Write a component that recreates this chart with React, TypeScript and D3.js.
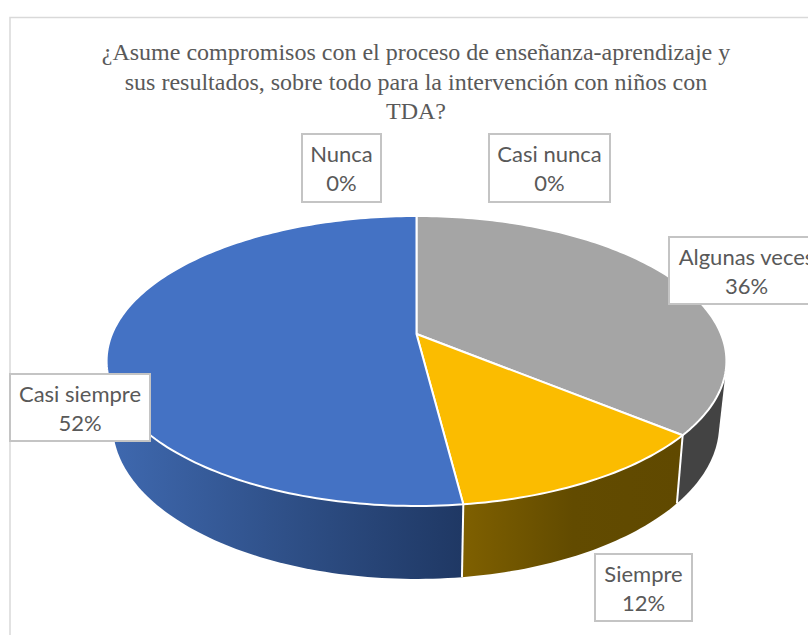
import * as d3 from "d3";

const categories = ["Nunca", "Casi nunca", "Algunas veces", "Siempre", "Casi siempre"];
const values = [0, 0, 36, 12, 52];
const titleLines = [
  "¿Asume compromisos con el proceso de enseñanza-aprendizaje y",
  "sus resultados, sobre todo para la intervención con niños con",
  "TDA?",
];
const topColors = ["#5b9bd5", "#ed7d31", "#a5a5a5", "#fbbc00", "#4472c4"];
// horizontal gradient on the wall of each slice
const wallStops = [
  ["#5b9bd5", "#5b9bd5", "#5b9bd5"],
  ["#ed7d31", "#ed7d31", "#ed7d31"],
  ["#434343", "#434343", "#434343"],
  ["#7f6000", "#624b00", "#604900"],
  ["#3f69b0", "#2f5088", "#1f3864"],
];
// label box per category: left, top, right, bottom
const labelBoxes = [
  [302, 134, 381, 202],
  [489, 134, 610, 202],
  [669, 237, 824, 304],
  [595, 554, 692, 621],
  [10, 374, 150, 441],
];

const WIDTH = 808;
const HEIGHT = 635;

// the disc is seen in perspective, so its centre is not the centre of the ellipse
type Disc = { cx: number; cy: number; a: number; b: number; p: number };
const topDisc: Disc = { cx: 416.5, cy: 334, a: 304.5, b: 140, p: 0.186 };
const bottomDisc: Disc = { cx: 416, cy: 395.7, a: 297.6, b: 148.4, p: 0.19 };

function rim(d: Disc, t: number): [number, number] {
  const u = Math.sin(t);
  const v = Math.cos(t);
  const w = 1 + d.p * v;
  return [d.cx + (d.a * u) / w, d.cy - (d.b * v) / w];
}

function arcPoints(d: Disc, t0: number, t1: number) {
  const n = Math.max(2, Math.ceil(Math.abs(t1 - t0) / 0.02));
  return d3.range(n + 1).map((i) => rim(d, t0 + ((t1 - t0) * i) / n));
}

const line = d3.line();

export default function App() {
  const slices = d3
    .pie<number>()
    .sort(null)
    .value((v) => v)
    .startAngle(0)
    .endAngle(Math.PI * 2)(values);

  // only the near half of the rim has a visible wall
  const nearStart = (Math.PI * 70) / 180;
  const nearEnd = (Math.PI * 290) / 180;

  const walls = slices
    .map((s, i) => {
      const t0 = Math.max(s.startAngle, nearStart);
      const t1 = Math.min(s.endAngle, nearEnd);
      return { i, t0, t1 };
    })
    .filter((w) => w.t1 > w.t0)
    .map((w) => ({
      ...w,
      // hull, so the tangent between both rims is filled too; the top disc hides the rest
      hull: d3.polygonHull([...arcPoints(topDisc, w.t0, w.t1), ...arcPoints(bottomDisc, w.t0, w.t1)])!,
    }));

  return (
    <svg
      width={WIDTH}
      height={HEIGHT}
      viewBox={`0 0 ${WIDTH} ${HEIGHT}`}
      style={{ position: "absolute", left: 0, top: 0, display: "block", background: "#fff" }}
    >
      <defs>
        {walls.map((w) => {
          const xs = w.hull.map((p) => p[0]);
          return (
            <linearGradient
              key={w.i}
              id={`wall-${w.i}`}
              gradientUnits="userSpaceOnUse"
              x1={d3.min(xs)}
              x2={d3.max(xs)}
              y1={0}
              y2={0}
            >
              {wallStops[w.i].map((c, k) => (
                <stop key={k} offset={k / 2} stopColor={c} />
              ))}
            </linearGradient>
          );
        })}
      </defs>

      <path d={`M10,${HEIGHT}V17.5H${WIDTH}`} fill="none" stroke="#d9d9d9" strokeWidth={1.5} />

      <g fontFamily="'Liberation Serif', serif" fontSize={24} fill="#595959" textAnchor="middle">
        {titleLines.map((t, i) => (
          <text key={t} x={416} y={60 + i * 29.5}>
            {t}
          </text>
        ))}
      </g>

      {walls.map((w) => (
        <path key={w.i} d={line(w.hull) + "Z"} fill={`url(#wall-${w.i})`} />
      ))}
      {/* white seams where slices meet on the wall */}
      {walls.slice(1).map((w) => (
        <path
          key={w.i}
          d={line([rim(topDisc, w.t0), rim(bottomDisc, w.t0)]) ?? ""}
          stroke="#fff"
          strokeWidth={2}
          fill="none"
        />
      ))}

      {slices.map((s, i) =>
        s.value > 0 ? (
          <path
            key={i}
            d={
              line([[topDisc.cx, topDisc.cy], ...arcPoints(topDisc, s.startAngle, s.endAngle)]) + "Z"
            }
            fill={topColors[i]}
            stroke="#fff"
            strokeWidth={2}
            strokeLinejoin="round"
          />
        ) : null
      )}

      <g fontFamily="Lato, Carlito, sans-serif" fontSize={22} fill="#595959" textAnchor="middle">
        {categories.map((c, i) => {
          const [x0, y0, x1, y1] = labelBoxes[i];
          const mid = (x0 + x1) / 2;
          return (
            <g key={c}>
              <rect x={x0} y={y0} width={x1 - x0} height={y1 - y0} fill="#fff" stroke="#c4c4c4" strokeWidth={2} />
              <text x={mid} y={y0 + 28}>
                {c}
              </text>
              <text x={mid} y={y0 + 57}>
                {values[i]}%
              </text>
            </g>
          );
        })}
      </g>
    </svg>
  );
}
